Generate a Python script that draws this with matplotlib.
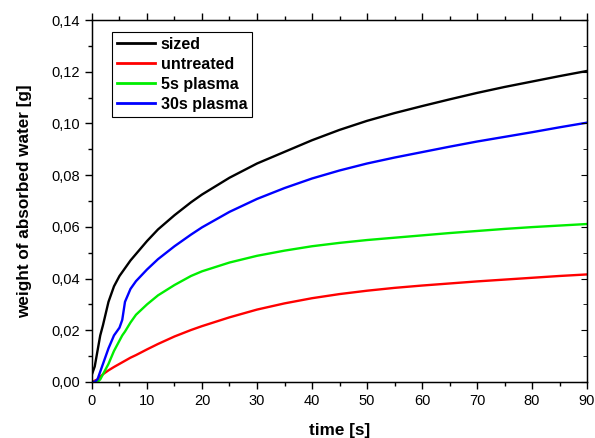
import matplotlib
matplotlib.use('Agg')
import matplotlib.pyplot as plt
from matplotlib.ticker import MultipleLocator, FuncFormatter

plt.rcParams['font.family'] = ['Liberation Sans', 'DejaVu Sans']

# ── data ──────────────────────────────────────────────────────────────
time_s = [0, 0.5, 1, 1.5, 2, 3, 4, 5, 5.5, 6, 7, 8, 10, 12, 15, 18, 20,
          25, 30, 35, 40, 45, 50, 55, 60, 65, 70, 75, 80, 85, 90]
sized = [0.003, 0.006, 0.012, 0.018, 0.022, 0.031, 0.037, 0.041, 0.0425,
         0.044, 0.047, 0.0495, 0.0545, 0.059, 0.0645, 0.0695, 0.0725, 0.079,
         0.0845, 0.089, 0.0935, 0.0975, 0.101, 0.104, 0.1067, 0.1093, 0.1118,
         0.1141, 0.1162, 0.1183, 0.1203]
untreated = [0, 0.0005, 0.001, 0.002, 0.003, 0.0045, 0.0058, 0.007, 0.0076,
             0.0082, 0.0094, 0.0104, 0.0126, 0.0147, 0.0176, 0.0201, 0.0216,
             0.0250, 0.0280, 0.0304, 0.0324, 0.0340, 0.0353, 0.0364, 0.0373,
             0.0381, 0.0389, 0.0396, 0.0403, 0.0410, 0.0416]
plasma_5s = [0, 0, 0, 0.001, 0.003, 0.007, 0.012, 0.016, 0.018, 0.0195,
             0.023, 0.026, 0.030, 0.0335, 0.0375, 0.041, 0.0428, 0.0462,
             0.0488, 0.0508, 0.0525, 0.0538, 0.0549, 0.0558, 0.0567, 0.0576,
             0.0584, 0.0592, 0.0599, 0.0605, 0.0611]
plasma_30s = [0, 0, 0.001, 0.004, 0.007, 0.013, 0.018, 0.021, 0.024, 0.031,
              0.036, 0.039, 0.0435, 0.0475, 0.0525, 0.057, 0.0598, 0.0658,
              0.0708, 0.0750, 0.0787, 0.0818, 0.0845, 0.0868, 0.0889, 0.0910,
              0.0930, 0.0948, 0.0966, 0.0985, 0.1003]

series = [('sized', sized, '#000000'),
          ('untreated', untreated, '#ff0000'),
          ('5s plasma', plasma_5s, '#00ee00'),
          ('30s plasma', plasma_30s, '#0000ff')]

fig = plt.figure(figsize=(5.95, 4.38), dpi=100)
ax = fig.add_axes([0.1546, 0.1279, 0.8320, 0.8264])

for lbl, vals, col in series:
    ax.plot(time_s, vals, color=col, lw=1.7, label=lbl)

ax.set_xlim(0, 90)
ax.set_ylim(0, 0.14)
ax.xaxis.set_major_locator(MultipleLocator(10))
ax.xaxis.set_minor_locator(MultipleLocator(5))
ax.yaxis.set_major_locator(MultipleLocator(0.02))
ax.yaxis.set_minor_locator(MultipleLocator(0.01))
ax.yaxis.set_major_formatter(FuncFormatter(lambda v, p: f'{v:.2f}'.replace('.', ',')))

ax.tick_params(axis='both', which='major', direction='out', length=5,
               width=1, labelsize=10.5, colors='#000000')
ax.tick_params(axis='both', which='minor', direction='out', length=3, width=1)
ax.tick_params(axis='x', which='both', top=True)
ax.tick_params(axis='y', which='both', right=False)
for sp in ax.spines.values():
    sp.set_linewidth(1.0)

# right axis: inward ticks only
ax_r = ax.twinx()
ax_r.set_ylim(0, 0.14)
ax_r.yaxis.set_major_locator(MultipleLocator(0.02))
ax_r.yaxis.set_minor_locator(MultipleLocator(0.01))
ax_r.tick_params(axis='y', which='major', direction='in', length=4, labelright=False)
ax_r.tick_params(axis='y', which='minor', direction='in', length=3)

ax.set_xlabel('time [s]', fontsize=12.3, fontweight='bold', labelpad=11)
ax.set_ylabel('weight of absorbed water [g]', fontsize=12.3, fontweight='bold',
              labelpad=14)

leg = ax.legend(loc='upper left', bbox_to_anchor=(0.04, 0.967), borderaxespad=0,
                fancybox=False, framealpha=1, edgecolor='#000000',
                handlelength=2.4, handletextpad=0.35, borderpad=0.3,
                labelspacing=0.32, prop={'weight': 'bold', 'size': 11.5})
leg.get_frame().set_linewidth(0.8)
for h in leg.get_lines():
    h.set_linewidth(2.0)

fig.savefig('out.png', dpi=100)
